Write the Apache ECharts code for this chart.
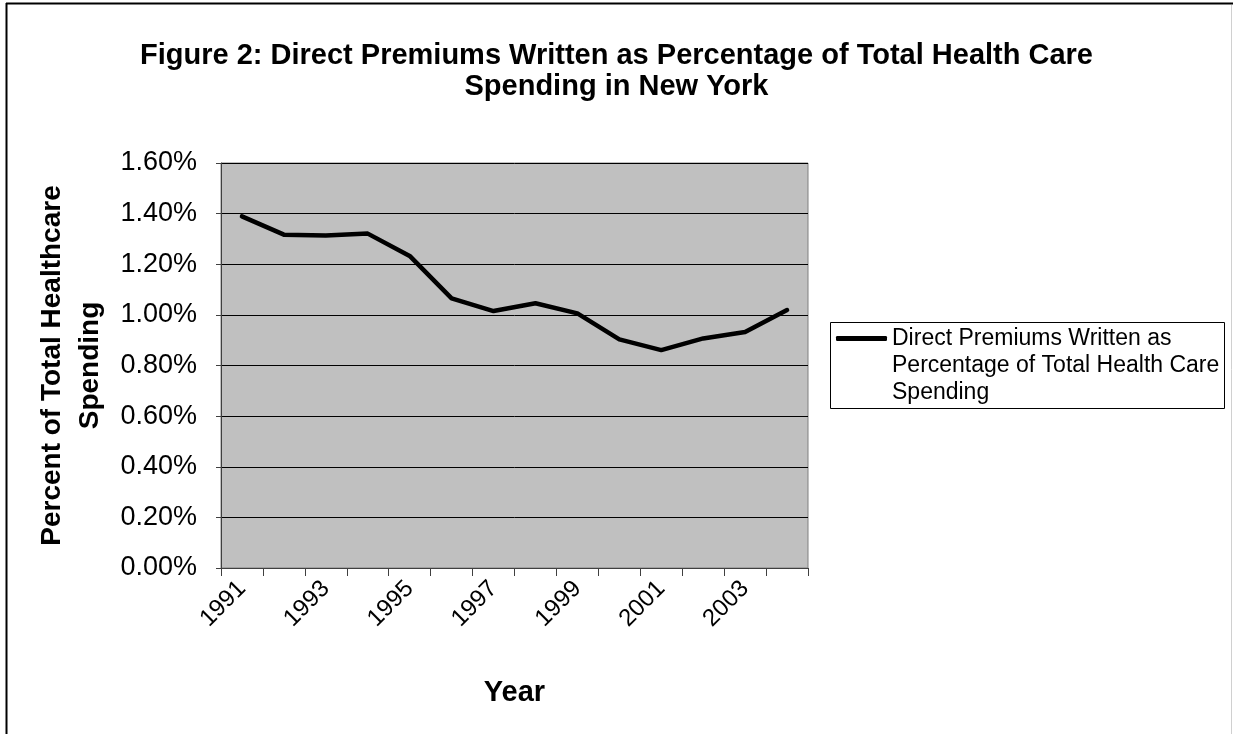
<!DOCTYPE html>
<html>
<head>
<meta charset="utf-8">
<script src="https://cdn.jsdelivr.net/npm/echarts@6/dist/echarts.min.js"></script>
<style>
  html, body { margin: 0; padding: 0; background: #fff; }
  #chart { width: 1233px; height: 734px; }
</style>
</head>
<body>
<div id="chart"></div>
<script>
// years on the x axis
var years = ['1991', '1992', '1993', '1994', '1995', '1996', '1997',
  '1998', '1999', '2000', '2001', '2002', '2003', '2004']
// direct premiums written as % of total health care spending
var premiumsPct = [1.389, 1.317, 1.314, 1.321, 1.233, 1.065, 1.015,
  1.046, 1.006, 0.903, 0.861, 0.907, 0.932, 1.019]
// y axis ticks
var yMin = 0
var yMax = 1.6
var yStep = 0.2

var seriesName = 'Direct Premiums Written as Percentage of Total Health Care Spending'
var font = '"Liberation Sans", Arial, sans-serif'

var chart = echarts.init(document.getElementById('chart'))
var option = {
  backgroundColor: '#fff',
  animation: false,
  textStyle: { fontFamily: font, color: '#000' },
  title: {
    text: 'Figure 2: Direct Premiums Written as Percentage of Total Health Care\nSpending in New York',
    left: 'center',
    top: 35,
    textStyle: {
      fontFamily: font,
      fontSize: 29,
      fontWeight: 'bold',
      lineHeight: 31,
      color: '#000'
    }
  },
  legend: {
    data: [seriesName],
    left: 836,
    top: 271,
    padding: 0,
    icon: 'roundRect',
    itemWidth: 51,
    itemHeight: 5,
    itemGap: 0,
    // two blank lines first so the line sample sits beside the first text line
    formatter: function() {
      return '\n\nDirect Premiums Written as\nPercentage of Total Health Care\nSpending'
    },
    textStyle: {
      fontFamily: font,
      fontSize: 23,
      lineHeight: 27,
      color: '#000'
    }
  },
  grid: {
    left: 221,
    top: 163,
    width: 587,
    height: 405,
    show: true,
    backgroundColor: '#c0c0c0',
    borderColor: '#808080',
    borderWidth: 1
  },
  xAxis: {
    type: 'category',
    data: years,
    boundaryGap: true,
    name: 'Year',
    nameLocation: 'middle',
    nameGap: 110,
    nameTextStyle: { fontFamily: font, fontSize: 29, fontWeight: 'bold', color: '#000' },
    axisLine: { show: true, lineStyle: { color: '#404040', width: 1 } },
    axisTick: { show: true, interval: 0, length: 8, lineStyle: { color: '#404040' } },
    axisLabel: {
      interval: 1,
      rotate: 45,
      margin: 17,
      fontFamily: font,
      fontSize: 24,
      color: '#000'
    },
    splitLine: { show: false }
  },
  yAxis: {
    type: 'value',
    min: yMin,
    max: yMax,
    interval: yStep,
    name: 'Percent of Total Healthcare\nSpending',
    nameLocation: 'middle',
    nameGap: 112,
    nameTextStyle: { fontFamily: font, fontSize: 28, fontWeight: 'bold', lineHeight: 38, color: '#000' },
    axisLine: { show: true, lineStyle: { color: '#404040', width: 1 } },
    axisTick: { show: true, length: 5, lineStyle: { color: '#404040' } },
    axisLabel: {
      margin: 24,
      fontFamily: font,
      fontSize: 27,
      color: '#000',
      formatter: function(v) {
        return v.toFixed(2) + '%'
      }
    },
    splitLine: { show: true, lineStyle: { color: '#000', width: 1 } }
  },
  series: [
    {
      name: seriesName,
      type: 'line',
      data: premiumsPct,
      symbol: 'none',
      lineStyle: { color: '#000', width: 4.5, join: 'round', cap: 'round' },
      itemStyle: { color: '#000' }
    }
  ],
  graphic: [
    // outer chart border (top, left, right)
    { type: 'line', shape: { x1: 6, y1: 3.5, x2: 1233, y2: 3.5 }, style: { stroke: '#000', lineWidth: 2 } },
    { type: 'line', shape: { x1: 6.5, y1: 3, x2: 6.5, y2: 734 }, style: { stroke: '#000', lineWidth: 2 } },
    { type: 'line', shape: { x1: 1231.5, y1: 5, x2: 1231.5, y2: 734 }, style: { stroke: '#d0d0d0', lineWidth: 1 } },
    // legend box
    { type: 'rect', shape: { x: 830.5, y: 322.5, width: 394, height: 86 }, style: { fill: null, stroke: '#000', lineWidth: 1 }, z: 0 }
  ]
}
chart.setOption(option, true)
</script>
</body>
</html>
